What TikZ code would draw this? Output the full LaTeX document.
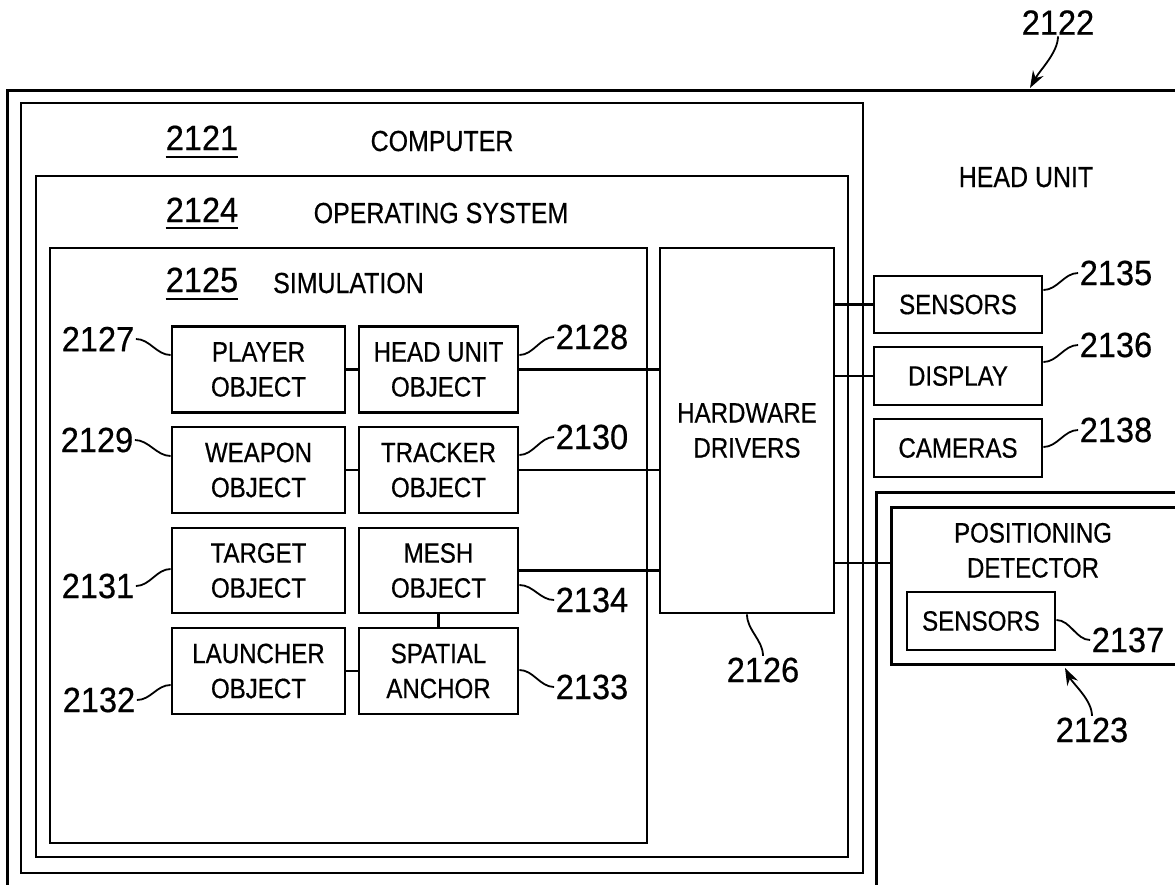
\documentclass[tikz,border=0pt]{standalone}
\usepackage{fontspec}
\setmainfont{Liberation Sans}
\newfontfamily\tf{Liberation Sans}[FakeStretch=0.86,FakeBold=0.5]
\newfontfamily\nf{Liberation Sans}[FakeStretch=0.93,FakeBold=0.5]
\usetikzlibrary{arrows.meta}
\begin{document}
\begin{tikzpicture}[x=1pt,y=-1pt,
  objbox/.style={draw,line width=2.8pt,inner sep=0pt,align=center,font=\tf\fontsize{28}{35}\selectfont},
  frame/.style={draw,line width=2.8pt,inner sep=0pt},
  ttext/.style={inner sep=0pt,font=\tf\fontsize{29}{35}\selectfont},
  refnum/.style={inner sep=1.5pt,font=\nf\fontsize{35}{40}\selectfont},
  wire/.style={line width=2.2pt},
  leader/.style={line width=1.8pt},
  bigarrow/.style={line width=1.8pt,-{Stealth[length=17pt,width=12pt]}},
]
\useasboundingbox (0,0) rectangle (1175,884);
\clip (0,0) rectangle (1175,884);

% containers
\node[frame,anchor=north west,minimum width=1400pt,minimum height=1000pt] (headunit) at (6,89) {};
\node[frame,minimum width=842pt,minimum height=770pt] (computer) at (442,488) {};
\node[frame,minimum width=812pt,minimum height=681pt] (os) at (442,516.5) {};
\node[frame,minimum width=597pt,minimum height=595pt] (sim) at (348.5,545.5) {};
\node[frame,anchor=north west,minimum width=600pt,minimum height=600pt] (posouter) at (875,491) {};
\node[frame,anchor=north west,minimum width=600pt,minimum height=157pt] (det) at (890,506) {};

% headings
\node[refnum,inner sep=0pt,anchor=base] (n2121) at (202,150) {2121};
\draw[line width=2.4pt] ([yshift=-7pt]n2121.base west) -- ([yshift=-7pt]n2121.base east);
\node[ttext,anchor=base] (tcomp) at (442,151) {COMPUTER};
\node[refnum,inner sep=0pt,anchor=base] (n2124) at (202,222) {2124};
\draw[line width=2.4pt] ([yshift=-6pt]n2124.base west) -- ([yshift=-6pt]n2124.base east);
\node[ttext,anchor=base] (tos) at (441,223) {OPERATING SYSTEM};
\node[refnum,inner sep=0pt,anchor=base] (n2125) at (202,292) {2125};
\draw[line width=2.4pt] ([yshift=-7pt]n2125.base west) -- ([yshift=-7pt]n2125.base east);
\node[ttext,anchor=base] (tsim) at (348.5,293) {SIMULATION};
\node[ttext,anchor=base] (thu) at (1026,187) {HEAD UNIT};
\node[ttext,anchor=base,font=\tf\fontsize{28}{35}\selectfont] (tpos) at (1033,542.5) {POSITIONING};
\node[ttext,anchor=base,font=\tf\fontsize{28}{35}\selectfont] (tdet) at (1033,577.5) {DETECTOR};

% object boxes
\node[objbox,minimum width=173pt,minimum height=86pt] (player) at (258.5,369.5) {PLAYER\\OBJECT};
\node[objbox,minimum width=159pt,minimum height=86pt] (hu) at (438.5,369.5) {HEAD UNIT\\OBJECT};
\node[objbox,minimum width=173pt,minimum height=86pt] (weapon) at (258.5,470) {WEAPON\\OBJECT};
\node[objbox,minimum width=159pt,minimum height=86pt] (tracker) at (438.5,470) {TRACKER\\OBJECT};
\node[objbox,minimum width=173pt,minimum height=85pt] (target) at (258.5,570.5) {TARGET\\OBJECT};
\node[objbox,minimum width=159pt,minimum height=85pt] (mesh) at (438.5,570.5) {MESH\\OBJECT};
\node[objbox,minimum width=173pt,minimum height=86pt] (launcher) at (258.5,671) {LAUNCHER\\OBJECT};
\node[objbox,minimum width=159pt,minimum height=86pt] (spatial) at (438.5,671) {SPATIAL\\ANCHOR};
\node[objbox,minimum width=174pt,minimum height=365pt] (hw) at (747,430.5) {HARDWARE\\DRIVERS};
\node[objbox,minimum width=168pt,minimum height=57pt] (sensors) at (958,304.5) {SENSORS};
\node[objbox,minimum width=168pt,minimum height=58pt] (display) at (958,376) {DISPLAY};
\node[objbox,minimum width=168pt,minimum height=58pt] (cameras) at (958,448) {CAMERAS};
\node[objbox,minimum width=148pt,minimum height=58pt] (psens) at (981,621) {SENSORS};

% connectors
\draw[wire] (player.east) -- (hu.west);
\draw[wire] (weapon.east) -- (tracker.west);
\draw[wire] (launcher.east) -- (spatial.west);
\draw[wire] (mesh.south) -- (spatial.north);
\draw[wire] (hu.east) -- (hu.east -| hw.west);
\draw[wire] (tracker.east) -- (tracker.east -| hw.west);
\draw[wire] (mesh.east) -- (mesh.east -| hw.west);
\draw[wire] (sensors.west -| hw.east) -- (sensors.west);
\draw[wire] (display.west -| hw.east) -- (display.west);
\coordinate (detin) at (890,563);
\draw[wire] (detin -| hw.east) -- (detin);

% reference numerals
\node[refnum] (l2127) at (98,339) {2127};
\node[refnum] (l2129) at (97,440) {2129};
\node[refnum] (l2131) at (98,586) {2131};
\node[refnum] (l2132) at (99,700) {2132};
\node[refnum] (l2128) at (592,337) {2128};
\node[refnum] (l2130) at (592,437) {2130};
\node[refnum] (l2134) at (592,600) {2134};
\node[refnum] (l2133) at (592,687) {2133};
\node[refnum] (l2135) at (1116,273) {2135};
\node[refnum] (l2136) at (1116,345) {2136};
\node[refnum] (l2138) at (1116,430) {2138};
\node[refnum] (l2137) at (1128,640) {2137};
\node[refnum] (l2123) at (1092,730) {2123};
\node[refnum] (l2126) at (763,670) {2126};
\node[refnum] (l2122) at (1058,22.5) {2122};

% leaders
\draw[leader] (l2127.east) .. controls +(14,0) and +(-14,0) .. (player.west |- 0,355);
\draw[leader] (l2129.east) .. controls +(14,0) and +(-14,0) .. (weapon.west |- 0,456);
\draw[leader] (l2131.east) .. controls +(14,0) and +(-14,0) .. (target.west |- 0,569);
\draw[leader] (l2132.east) .. controls +(14,0) and +(-14,0) .. (launcher.west |- 0,685);
\draw[leader] (hu.east |- 0,355) .. controls +(14,0) and +(-14,0) .. (l2128.west);
\draw[leader] (tracker.east |- 0,455) .. controls +(14,0) and +(-14,0) .. (l2130.west);
\draw[leader] (mesh.east |- 0,585) .. controls +(14,0) and +(-14,0) .. (l2134.west);
\draw[leader] (spatial.east |- 0,670) .. controls +(14,0) and +(-14,0) .. (l2133.west);
\draw[leader] (sensors.east |- 0,290) .. controls +(14,0) and +(-14,0) .. (l2135.west);
\draw[leader] (display.east |- 0,362) .. controls +(14,0) and +(-14,0) .. (l2136.west);
\draw[leader] (cameras.east |- 0,447) .. controls +(14,0) and +(-14,0) .. (l2138.west);
\draw[leader] (psens.east |- 0,620) .. controls +(14,0) and +(-14,0) .. (l2137.west);
\draw[leader] (hw.south) .. controls +(0,16) and +(0,-16) .. (l2126.north);
\coordinate (t2122) at (1030,88);
\draw[bigarrow] (l2122.south) .. controls +(0,16) and +(10,-18) .. (t2122);
\coordinate (t2123) at (1065,668);
\draw[bigarrow] (l2123.north) .. controls +(0,-16) and +(8,16) .. (t2123);
\end{tikzpicture}
\end{document}
